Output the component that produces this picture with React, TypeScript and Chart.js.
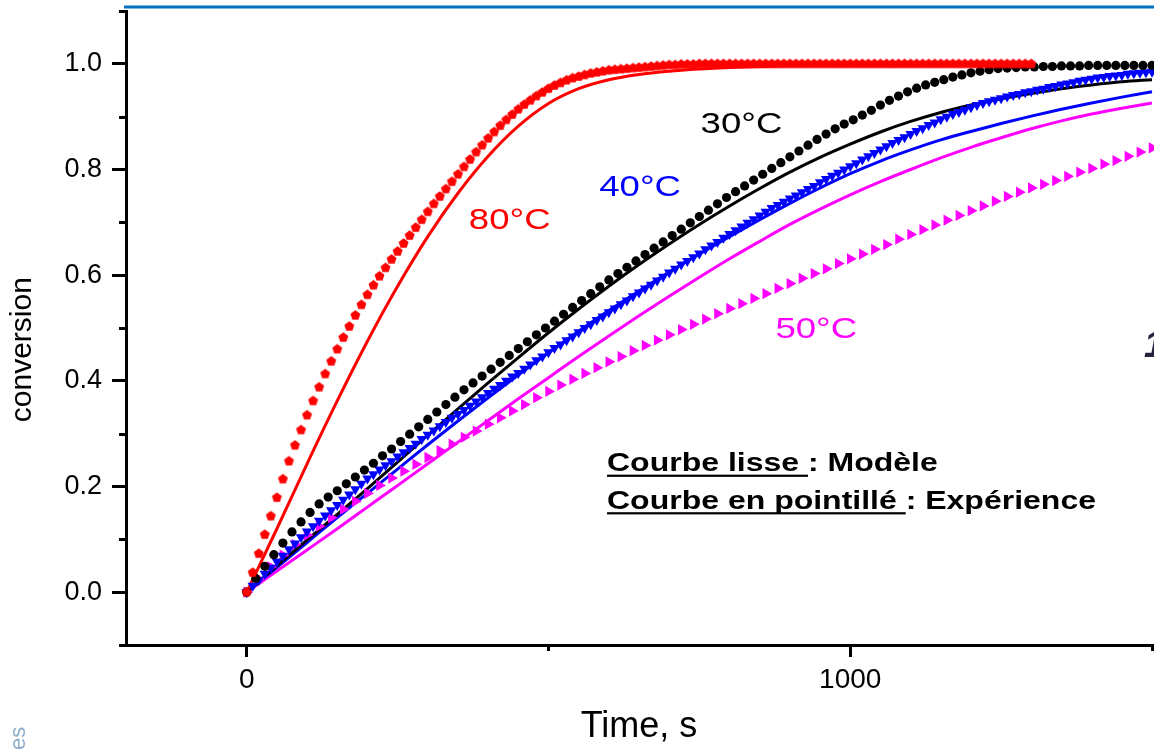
import React, { useEffect, useRef } from 'react';
import { Chart, registerables } from 'chart.js';

Chart.register(...registerables);

const FONT = "'Liberation Sans', Arial, sans-serif";

// ---- axes ----
const xRange = [-200, 1500];
const yRange = [-0.1, 1.1];
const xMajorTicks = [0, 1000];
const xMinorTicks = [500, 1500];
const yMajorTicks = [0, 0.2, 0.4, 0.6, 0.8, 1.0];
const yMinorTicks = [-0.1, 0.1, 0.3, 0.5, 0.7, 0.9, 1.1];

// ---- experimental series (sampled every N seconds) ----
const redExpStep = 10;
const redExp = [
  0, 0.037, 0.073, 0.109, 0.144, 0.179, 0.214, 0.248, 0.278, 0.307,
  0.335, 0.362, 0.388, 0.413, 0.437, 0.460, 0.482, 0.503, 0.524, 0.544,
  0.563, 0.581, 0.598, 0.614, 0.630, 0.645, 0.660, 0.675, 0.690, 0.705,
  0.720, 0.735, 0.749, 0.763, 0.777, 0.791, 0.805, 0.819, 0.833, 0.846,
  0.859, 0.871, 0.883, 0.894, 0.904, 0.914, 0.923, 0.931, 0.939, 0.946,
  0.953, 0.959, 0.964, 0.969, 0.973, 0.976, 0.979, 0.982, 0.984, 0.986,
  0.988, 0.989, 0.990, 0.991, 0.992, 0.993, 0.994, 0.995, 0.996, 0.997,
  0.998, 0.998, 0.999, 0.999, 0.999, 1.0, 1.0, 1.0, 1.0, 1.0,
  1.0, 1.0, 1.0, 1.0, 1.0, 1.0, 1.0, 1.0, 1.0, 1.0,
  1.0, 1.0, 1.0, 1.0, 1.0, 1.0, 1.0, 1.0, 1.0, 1.0,
  1.0, 1.0, 1.0, 1.0, 1.0, 1.0, 1.0, 1.0, 1.0, 1.0,
  1.0, 1.0, 1.0, 1.0, 1.0, 1.0, 1.0, 1.0, 1.0, 1.0,
  1.0, 1.0, 1.0, 1.0, 1.0, 1.0, 1.0, 1.0, 1.0, 1.0,
  1.0,
];

const blackExpStep = 15;
const blackExp = [
  0, 0.026, 0.049, 0.071, 0.093, 0.114, 0.133, 0.151, 0.167, 0.180,
  0.192, 0.205, 0.218, 0.231, 0.244, 0.258, 0.271, 0.285, 0.299, 0.313,
  0.327, 0.341, 0.355, 0.369, 0.383, 0.396, 0.409, 0.422, 0.435, 0.448,
  0.461, 0.474, 0.487, 0.500, 0.513, 0.526, 0.539, 0.552, 0.565, 0.578,
  0.591, 0.603, 0.615, 0.627, 0.639, 0.651, 0.663, 0.675, 0.687, 0.699,
  0.711, 0.723, 0.735, 0.747, 0.758, 0.769, 0.780, 0.791, 0.802, 0.813,
  0.824, 0.835, 0.846, 0.857, 0.867, 0.877, 0.886, 0.894, 0.903, 0.912,
  0.922, 0.931, 0.939, 0.947, 0.954, 0.960, 0.965, 0.970, 0.975, 0.979,
  0.983, 0.986, 0.989, 0.991, 0.992, 0.993, 0.994, 0.994, 0.995, 0.995,
  0.996, 0.996, 0.996, 0.997, 0.997, 0.997, 0.997, 0.997, 0.997, 0.997,
  0.997,
];

const blueExpStep = 10;
const blueExp = [
  0, 0.012, 0.023, 0.035, 0.046, 0.058, 0.069, 0.081, 0.092, 0.104,
  0.115, 0.125, 0.135, 0.145, 0.155, 0.165, 0.175, 0.185, 0.195, 0.205,
  0.215, 0.223, 0.232, 0.240, 0.248, 0.257, 0.265, 0.273, 0.281, 0.290,
  0.298, 0.306, 0.314, 0.322, 0.330, 0.337, 0.345, 0.353, 0.361, 0.369,
  0.377, 0.385, 0.392, 0.400, 0.408, 0.415, 0.423, 0.431, 0.439, 0.446,
  0.454, 0.462, 0.469, 0.477, 0.484, 0.492, 0.500, 0.507, 0.515, 0.522,
  0.530, 0.537, 0.545, 0.552, 0.560, 0.567, 0.575, 0.582, 0.590, 0.597,
  0.605, 0.612, 0.620, 0.627, 0.634, 0.641, 0.649, 0.656, 0.663, 0.671,
  0.678, 0.685, 0.692, 0.699, 0.706, 0.713, 0.720, 0.727, 0.733, 0.739,
  0.745, 0.751, 0.757, 0.763, 0.769, 0.776, 0.782, 0.788, 0.794, 0.800,
  0.806, 0.812, 0.819, 0.825, 0.831, 0.838, 0.844, 0.850, 0.856, 0.861,
  0.867, 0.873, 0.878, 0.884, 0.889, 0.895, 0.900, 0.905, 0.909, 0.913,
  0.918, 0.922, 0.926, 0.929, 0.932, 0.935, 0.938, 0.941, 0.943, 0.946,
  0.948, 0.951, 0.953, 0.956, 0.958, 0.961, 0.963, 0.965, 0.968, 0.970,
  0.972, 0.974, 0.975, 0.977, 0.978, 0.979, 0.981, 0.982, 0.983, 0.984,
  0.985,
];

const magentaExpStep = 20;
const magentaExp = [
  0, 0.025, 0.048, 0.070, 0.090, 0.108, 0.125, 0.141, 0.157, 0.172,
  0.187, 0.202, 0.216, 0.229, 0.242, 0.255, 0.268, 0.280, 0.293, 0.305,
  0.318, 0.330, 0.343, 0.355, 0.368, 0.380, 0.392, 0.403, 0.414, 0.425,
  0.436, 0.446, 0.457, 0.467, 0.477, 0.487, 0.497, 0.507, 0.517, 0.527,
  0.537, 0.546, 0.556, 0.565, 0.575, 0.584, 0.594, 0.603, 0.612, 0.622,
  0.631, 0.640, 0.649, 0.658, 0.668, 0.677, 0.686, 0.695, 0.704, 0.713,
  0.722, 0.731, 0.740, 0.749, 0.757, 0.765, 0.772, 0.779, 0.787, 0.795,
  0.802, 0.810, 0.817, 0.825, 0.833, 0.841,
];

// ---- model curves ----
const redModelTimes = [0, 50, 100, 150, 200, 250, 300, 350, 400, 450, 500, 550, 600, 650, 700, 750, 800, 900, 1000, 1100, 1200, 1300];
const redModel = [0, 0.12, 0.243, 0.362, 0.475, 0.579, 0.673, 0.755, 0.825, 0.882, 0.925, 0.953, 0.970, 0.980, 0.986, 0.990, 0.993, 0.997, 0.999, 1.0, 1.0, 1.0];

const modelTimes = [0, 50, 100, 150, 200, 250, 300, 350, 400, 450, 500, 550, 600, 650, 700, 750, 800, 850, 900, 950, 1000, 1050, 1100, 1150, 1200, 1250, 1300, 1350, 1400, 1450, 1500];
const blackModel = [0, 0.05, 0.099, 0.147, 0.196, 0.246, 0.297, 0.347, 0.396, 0.444, 0.491, 0.536, 0.579, 0.620, 0.659, 0.696, 0.731, 0.764, 0.795, 0.823, 0.848, 0.871, 0.891, 0.908, 0.922, 0.934, 0.944, 0.953, 0.960, 0.966, 0.970];
const blueModel = [0, 0.047, 0.094, 0.141, 0.187, 0.233, 0.279, 0.324, 0.368, 0.411, 0.453, 0.494, 0.533, 0.570, 0.606, 0.640, 0.673, 0.705, 0.736, 0.765, 0.792, 0.816, 0.837, 0.856, 0.872, 0.887, 0.901, 0.914, 0.926, 0.937, 0.947];
const magentaModel = [0, 0.04, 0.08, 0.12, 0.161, 0.202, 0.243, 0.284, 0.325, 0.366, 0.406, 0.446, 0.485, 0.523, 0.560, 0.596, 0.631, 0.664, 0.696, 0.725, 0.752, 0.777, 0.800, 0.822, 0.842, 0.860, 0.877, 0.892, 0.905, 0.916, 0.926];

// ---- text ----
const tempLabels = ['30°C', '40°C', '80°C', '50°C'];
const tempColors = ['#000000', '#0000ff', '#ff0000', '#ff00ff'];
const tempLabelAt = [[752, 0.869], [584, 0.750], [368, 0.6875], [876, 0.481]];
const noteUnderlined = ['Courbe lisse ', 'Courbe en pointillé '];
const noteRest = [': Modèle', ': Expérience'];
const noteAt = [[597, 0.229], [597, 0.158]];
const yTitle = 'conversion';
const xTitle = 'Time, s';

const toPoints = (vals: number[], step: number) => vals.map((v, i) => ({ x: i * step, y: v }));
const pairPoints = (ts: number[], vals: number[]) => vals.map((v, i) => ({ x: ts[i], y: v }));

function makePentagon(color: string, r: number) {
  const c = document.createElement('canvas');
  const s = Math.ceil(r * 2 + 2);
  c.width = s;
  c.height = s;
  const g = c.getContext('2d')!;
  g.fillStyle = color;
  g.beginPath();
  for (let i = 0; i < 5; i++) {
    const a = -Math.PI / 2 + (i * 2 * Math.PI) / 5;
    const px = s / 2 + r * Math.cos(a);
    const py = s / 2 + r * Math.sin(a);
    if (i === 0) g.moveTo(px, py);
    else g.lineTo(px, py);
  }
  g.closePath();
  g.fill();
  return c;
}

function drawStretched(ctx: CanvasRenderingContext2D, text: string, x: number, y: number, font: string, color: string, sx: number) {
  ctx.save();
  ctx.font = font;
  ctx.fillStyle = color;
  ctx.textAlign = 'left';
  ctx.textBaseline = 'alphabetic';
  ctx.translate(x, y);
  ctx.scale(sx, 1);
  ctx.fillText(text, 0, 0);
  const w = ctx.measureText(text).width * sx;
  ctx.restore();
  return w;
}

const decorations = {
  id: 'decorations',
  afterDraw(chart: any) {
    const { ctx, chartArea, scales } = chart;
    const xs = scales.x;
    const ys = scales.y;
    ctx.save();
    // minor ticks
    ctx.strokeStyle = '#000';
    ctx.lineWidth = 3;
    yMinorTicks.forEach((v) => {
      const py = Math.round(ys.getPixelForValue(v)) + 0.5;
      ctx.beginPath();
      ctx.moveTo(chartArea.left - 7, py);
      ctx.lineTo(chartArea.left, py);
      ctx.stroke();
    });
    xMinorTicks.forEach((v) => {
      const px = Math.round(xs.getPixelForValue(v)) + 0.5;
      ctx.beginPath();
      ctx.moveTo(px, chartArea.bottom);
      ctx.lineTo(px, chartArea.bottom + 6);
      ctx.stroke();
    });
    // top blue rule
    ctx.strokeStyle = '#0070c0';
    ctx.lineWidth = 3;
    ctx.beginPath();
    ctx.moveTo(chartArea.left - 2, chartArea.top - 4);
    ctx.lineTo(chart.width, chartArea.top - 4);
    ctx.stroke();

    // y title
    ctx.save();
    ctx.translate(23, ys.getPixelForValue(0.459));
    ctx.rotate(-Math.PI / 2);
    ctx.font = `30px ${FONT}`;
    ctx.fillStyle = '#000';
    ctx.textAlign = 'center';
    ctx.textBaseline = 'middle';
    ctx.fillText(yTitle, 0, 0);
    ctx.restore();

    // temperature labels
    tempLabels.forEach((t, i) => {
      const [tx, ty] = tempLabelAt[i];
      drawStretched(ctx, t, xs.getPixelForValue(tx), ys.getPixelForValue(ty), `30px ${FONT}`, tempColors[i], 1.22);
    });

    // notes
    noteUnderlined.forEach((u, i) => {
      const [nx, ny] = noteAt[i];
      const px = xs.getPixelForValue(nx);
      const py = ys.getPixelForValue(ny);
      const f = `bold 25px ${FONT}`;
      const w = drawStretched(ctx, u, px, py, f, '#000', 1.28);
      drawStretched(ctx, noteRest[i], px + w, py, f, '#000', 1.28);
      ctx.fillStyle = '#000';
      ctx.fillRect(px, py + 3.5, w, 2.2);
    });

    // stray fragments of neighbouring slide content
    ctx.save();
    ctx.font = `bold italic 36px ${FONT}`;
    ctx.fillStyle = '#23233f';
    ctx.textBaseline = 'alphabetic';
    ctx.fillText('1', 1144, 357);
    ctx.restore();

    ctx.save();
    ctx.translate(25, 750);
    ctx.rotate(-Math.PI / 2);
    ctx.font = `22px ${FONT}`;
    ctx.fillStyle = '#8eaccb';
    ctx.textAlign = 'left';
    ctx.textBaseline = 'alphabetic';
    ctx.fillText('es', 0, 0);
    ctx.restore();

    ctx.restore();
  },
};

export default function App() {
  const ref = useRef<HTMLCanvasElement>(null);
  useEffect(() => {
    const pentagon = makePentagon('#ff0000', 5.2);
    const modelLine = (label: string, color: string, pts: any[]) => ({
      label,
      data: pts,
      showLine: true,
      borderColor: color,
      borderWidth: 3,
      pointRadius: 0,
      cubicInterpolationMode: 'monotone',
      order: 10,
      clip: false,
    });
    const chart = new Chart(ref.current!, {
      type: 'scatter',
      data: {
        datasets: [
          {
            label: '80°C exp',
            data: toPoints(redExp, redExpStep),
            pointStyle: pentagon,
            pointRadius: 5,
            showLine: false,
            order: 0,
            clip: false,
          },
          {
            label: '30°C exp',
            data: toPoints(blackExp, blackExpStep),
            pointStyle: 'circle',
            pointRadius: 4.6,
            pointBorderWidth: 0,
            pointBackgroundColor: '#000',
            showLine: false,
            order: 1,
            clip: false,
          },
          {
            label: '40°C exp',
            data: toPoints(blueExp, blueExpStep),
            pointStyle: 'triangle',
            pointRotation: 180,
            pointRadius: 6,
            pointBorderWidth: 0,
            pointBackgroundColor: '#0000ff',
            showLine: false,
            order: 2,
            clip: false,
          },
          {
            label: '50°C exp',
            data: toPoints(magentaExp, magentaExpStep),
            pointStyle: 'triangle',
            pointRotation: 90,
            pointRadius: 6.5,
            pointBorderWidth: 0,
            pointBackgroundColor: '#ff00ff',
            showLine: false,
            order: 3,
            clip: false,
          },
          modelLine('80°C model', '#ff0000', pairPoints(redModelTimes, redModel)),
          modelLine('30°C model', '#000000', pairPoints(modelTimes, blackModel)),
          modelLine('40°C model', '#0000ff', pairPoints(modelTimes, blueModel)),
          modelLine('50°C model', '#ff00ff', pairPoints(modelTimes, magentaModel)),
        ] as any,
      },
      options: {
        animation: false,
        responsive: false,
        devicePixelRatio: 1,
        events: [],
        layout: { autoPadding: false, padding: { left: 0, right: 2, top: 11, bottom: 0 } },
        plugins: {
          legend: { display: false },
          tooltip: { enabled: false },
        },
        scales: {
          x: {
            type: 'linear',
            min: xRange[0],
            max: xRange[1],
            afterBuildTicks: (s: any) => {
              s.ticks = xMajorTicks.map((v) => ({ value: v }));
            },
            afterFit: (s: any) => {
              s.height = 105;
              s.paddingLeft = 0;
              s.paddingRight = 0;
            },
            ticks: {
              autoSkip: false,
              maxRotation: 0,
              padding: 6,
              color: '#000',
              font: { family: FONT, size: 28 },
              callback: (v: any) => String(v),
            },
            grid: { drawOnChartArea: false, drawTicks: true, tickLength: 12, lineWidth: 3, color: '#000' },
            border: { display: true, width: 3, color: '#000' },
            title: { display: true, text: xTitle, color: '#000', font: { family: FONT, size: 36 }, padding: { top: 2, bottom: 1 } },
          },
          y: {
            type: 'linear',
            min: yRange[0],
            max: yRange[1],
            afterBuildTicks: (s: any) => {
              s.ticks = yMajorTicks.map((v) => ({ value: v }));
            },
            afterFit: (s: any) => {
              s.width = 126;
              s.paddingTop = 0;
              s.paddingBottom = 0;
            },
            ticks: {
              autoSkip: false,
              padding: 10,
              color: '#000',
              font: { family: FONT, size: 27 },
              callback: (v: any) => Number(v).toFixed(1),
            },
            grid: { drawOnChartArea: false, drawTicks: true, tickLength: 14, lineWidth: 3, color: '#000' },
            border: { display: true, width: 3, color: '#000' },
          },
        },
      },
      plugins: [decorations],
    } as any);
    return () => chart.destroy();
  }, []);
  return (
    <div style={{ position: 'absolute', left: 0, top: 0, width: 1154, height: 750, background: '#fff' }}>
      <canvas ref={ref} width={1154} height={750} style={{ display: 'block', width: 1154, height: 750 }} />
    </div>
  );
}
